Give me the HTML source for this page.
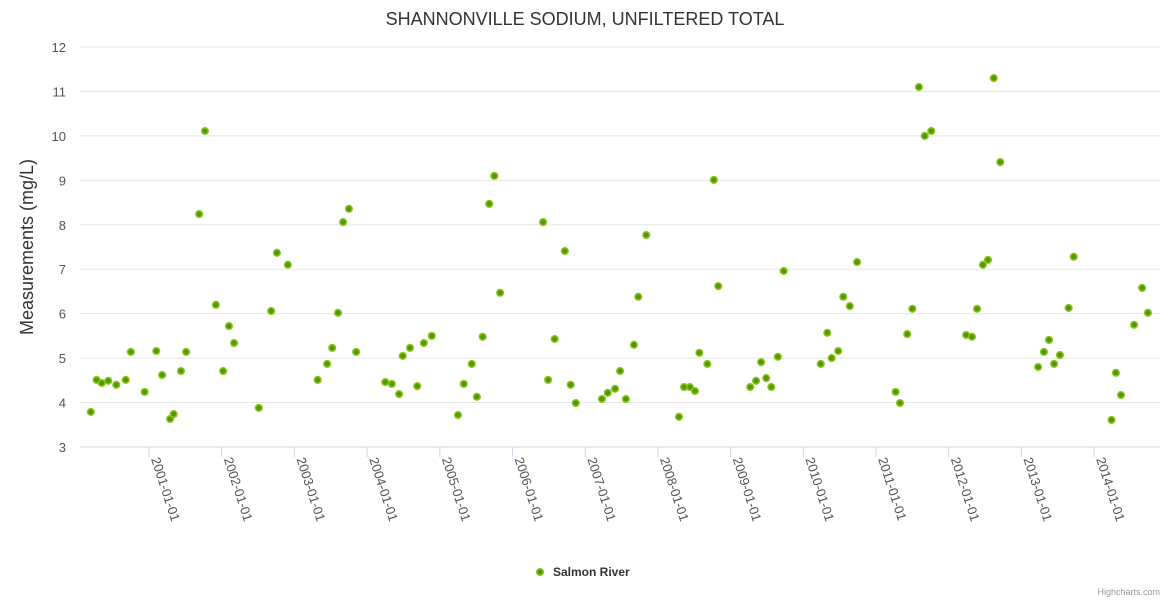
<!DOCTYPE html>
<html><head><meta charset="utf-8"><style>
html,body{margin:0;padding:0;background:#fff;}
svg{display:block;font-family:"Liberation Sans",sans-serif;}
</style></head><body>
<svg id="chart" width="1170" height="600" xmlns="http://www.w3.org/2000/svg">
<text x="585" y="25" text-anchor="middle" font-size="18" fill="#333">SHANNONVILLE SODIUM, UNFILTERED TOTAL</text>
<text transform="translate(33,247) rotate(-90)" text-anchor="middle" font-size="18" fill="#333">Measurements (mg/L)</text>
<g id="grid"></g><g id="xaxis"></g><g id="points"></g>
<g>
<circle cx="540" cy="572" r="3.3" fill="#4f9a00" stroke="#8cc31a" stroke-width="1.5"/>
<text x="553" y="576" font-size="12" font-weight="bold" fill="#333">Salmon River</text>
</g>
<text x="1160" y="595" text-anchor="end" font-size="9" fill="#999">Highcharts.com</text>
</svg>
<script>
const yTicks=[3,4,5,6,7,8,9,10,11,12];
const xTickYears=[2001,2002,2003,2004,2005,2006,2007,2008,2009,2010,2011,2012,2013,2014];
const dates=[2000.20,2000.28,2000.35,2000.44,2000.55,2000.68,2000.75,2000.94,2001.10,2001.18,2001.29,2001.34,2001.44,2001.51,2001.69,2001.77,2001.92,2002.02,2002.10,2002.17,2002.51,2002.68,2002.76,2002.91,2003.32,2003.45,2003.52,2003.60,2003.67,2003.75,2003.85,2004.25,2004.34,2004.44,2004.49,2004.59,2004.69,2004.78,2004.89,2005.25,2005.33,2005.44,2005.51,2005.59,2005.68,2005.75,2005.83,2006.42,2006.49,2006.58,2006.72,2006.80,2006.87,2007.23,2007.31,2007.41,2007.48,2007.56,2007.67,2007.73,2007.84,2008.29,2008.36,2008.44,2008.51,2008.57,2008.68,2008.77,2008.83,2009.27,2009.35,2009.42,2009.49,2009.56,2009.65,2009.73,2010.24,2010.33,2010.39,2010.48,2010.55,2010.64,2010.74,2011.27,2011.33,2011.43,2011.50,2011.59,2011.67,2011.76,2012.24,2012.32,2012.39,2012.47,2012.54,2012.62,2012.71,2013.23,2013.31,2013.38,2013.45,2013.53,2013.65,2013.72,2014.24,2014.30,2014.37,2014.55,2014.66,2014.74];
const values=[3.79,4.51,4.44,4.49,4.40,4.51,5.14,4.24,5.16,4.62,3.63,3.74,4.71,5.14,8.24,10.11,6.20,4.71,5.72,5.34,3.88,6.06,7.37,7.10,4.51,4.87,5.23,6.02,8.06,8.36,5.14,4.46,4.42,4.19,5.05,5.23,4.37,5.34,5.50,3.72,4.42,4.87,4.13,5.48,8.47,9.10,6.47,8.06,4.51,5.43,7.41,4.40,3.99,4.08,4.22,4.31,4.71,4.08,5.30,6.38,7.77,3.68,4.35,4.35,4.26,5.12,4.87,9.01,6.62,4.35,4.49,4.91,4.55,4.35,5.03,6.96,4.87,5.57,5.00,5.16,6.38,6.17,7.16,4.24,3.99,5.54,6.11,11.10,10.00,10.11,5.52,5.48,6.11,7.10,7.21,11.30,9.41,4.80,5.14,5.41,4.87,5.07,6.13,7.28,3.61,4.67,4.17,5.75,6.58,6.02];
const NS="http://www.w3.org/2000/svg";
const L=80,R=1160,T=47,B=447;
function yS(v){return B-(v-3)/9*(B-T);}
function xS(t){return 149+(t-2001)*72.7;}
function mk(tag,a,p){const e=document.createElementNS(NS,tag);for(const k in a)e.setAttribute(k,a[k]);p.appendChild(e);return e;}
const grid=document.getElementById('grid'),xa=document.getElementById('xaxis'),pts=document.getElementById('points');
yTicks.forEach(v=>{
 const y=yS(v);
 const g=mk('line',{x1:L,x2:R,y1:y,y2:y,stroke:v===3?'#ccd6eb':'#e6e6e6','stroke-width':1},grid);
 
 
 const t=mk('text',{x:66,y:y+5,'text-anchor':'end','font-size':13,fill:'#555'},grid);
 t.textContent=v;
 
 
});
xTickYears.forEach(yr=>{
 const x=xS(yr);
 const tk=mk('line',{x1:x,x2:x,y1:B,y2:B+10,stroke:'#ccd6eb'},xa);
 
 
 const t=mk('text',{transform:`translate(${x+2},${B+12}) rotate(72)`,'font-size':13,fill:'#555'},xa);
 t.textContent=yr+'-01-01';
 
 
});
dates.forEach((d,i)=>{
 const c=mk('circle',{cx:xS(d),cy:yS(values[i]),r:3.3,fill:'#4f9a00',stroke:'#8cc31a','stroke-width':1.5},pts);
 
 
});
</script>
</body></html>
